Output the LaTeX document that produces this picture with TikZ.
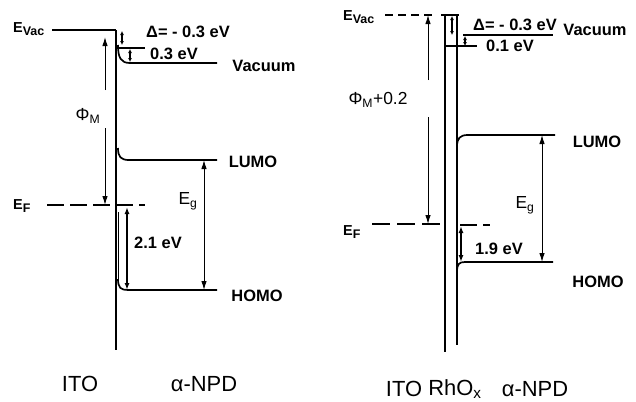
\documentclass[tikz,border=0pt]{standalone}
\usepackage{fontspec}
\setmainfont{Liberation Sans}
\usetikzlibrary{arrows.meta}
\newcommand{\esub}[2]{#1\raisebox{-3.5bp}{\fontsize{12.5}{14}\selectfont #2}}
\begin{document}
\begin{tikzpicture}[x=1bp,y=-1bp,
  barline/.style={line width=2.4bp},
  lvl/.style={line width=1.7bp},
  thinline/.style={line width=0.9bp},
  bigarr/.style={line width=1bp,-{Latex[length=9bp,width=5.5bp]}},
  dblarr/.style={line width=1bp,{Latex[length=9bp,width=5.5bp]}-{Latex[length=9bp,width=5.5bp]}},
  medarr/.style={line width=1.5bp,{Latex[length=7bp,width=5bp]}-{Latex[length=7bp,width=5bp]}},
  tinyarr/.style={line width=1.2bp,{Latex[length=4bp,width=4bp]}-{Latex[length=4bp,width=4bp]}},
  dashlvl/.style={line width=1.7bp,dash pattern=on 17bp off 6bp},
  lbl/.style={font=\fontsize{16.5}{18}\selectfont\bfseries, inner sep=0pt},
  elbl/.style={font=\fontsize{14.5}{16}\selectfont\bfseries, inner sep=0pt},
  txt/.style={font=\fontsize{17.5}{20}\selectfont, inner sep=0pt},
  bigtxt/.style={font=\fontsize{22}{26}\selectfont, inner sep=0pt},
]
\useasboundingbox (0,0) rectangle (636,401);
% ================= LEFT =================
\coordinate (LvacL) at (52,30);
\coordinate (LitoT) at (116,30);
\coordinate (LitoB) at (116,350);
\draw[lvl] (LvacL) -- (LitoT);
\draw[barline] (LitoT) -- (LitoB);
% vacuum level alpha-NPD
\coordinate (LvS) at (118,45);
\coordinate (LvE) at (217,63);
\draw[lvl] (LvS) .. controls (118,58) and (121,63) .. (130,63) -- (LvE);
% tick for 0.3 eV
\coordinate (LtA) at (117,48);
\coordinate (LtB) at (145,48);
\draw[lvl] (LtA) -- (LtB);
% Delta arrow
\coordinate (LdT) at (122,31);
\coordinate (LdB) at (122,45);
\draw[tinyarr] (LdT) -- (LdB);
% 0.3 eV arrow
\coordinate (L3T) at (130,49);
\coordinate (L3B) at (130,62);
\draw[tinyarr] (L3T) -- (L3B);
% LUMO
\coordinate (LlS) at (118,148);
\coordinate (LlE) at (217,160);
\draw[lvl] (LlS) .. controls (118,157) and (121,160) .. (129,160) -- (LlE);
% interface line and HOMO
\coordinate (LiT) at (118,212);
\coordinate (LiB) at (118,279);
\draw[thinline] (LiT) -- (LiB);
\coordinate (LhE) at (217,290);
\draw[lvl] (LiB) .. controls (118,288) and (121,290) .. (128,290) -- (LhE);
% E_F dashed
\coordinate (LfL) at (47,205);
\coordinate (LfR) at (145,205);
\draw[dashlvl] (LfL) -- (LfR);
% Phi_M arrow
\coordinate (LpT) at (105,37);
\coordinate (LpG1) at (105,90);
\coordinate (LpG2) at (105,128);
\coordinate (LpB) at (105,205);
\draw[bigarr] (LpG1) -- (LpT);
\draw[bigarr] (LpG2) -- (LpB);
% 2.1 eV arrow
\coordinate (L21T) at (127,207);
\coordinate (L21B) at (127,290);
\draw[medarr] (L21T) -- (L21B);
% E_g arrow
\coordinate (LgT) at (204,160);
\coordinate (LgB) at (204,290);
\draw[dblarr] (LgT) -- (LgB);
% labels
\node[elbl, anchor=west] (LEvac) at (13,29) {\esub{E}{Vac}};
\node[lbl] (LDelta) at (188,32) {Δ= - 0.3 eV};
\node[lbl] (L03) at (174,54) {0.3 eV};
\node[lbl] (LVac) at (264,66) {Vacuum};
\node[txt] (LPhi) at (88,116) {Φ\textsubscript{M}};
\node[lbl] (LLUMO) at (253,162) {LUMO};
\node[txt] (LEg) at (188,201) {E\textsubscript{g}};
\node[elbl, anchor=west] (LEF) at (13,206) {\esub{E}{F}};
\node[lbl] (L21) at (158,243) {2.1 eV};
\node[lbl] (LHOMO) at (257,296) {HOMO};
\node[bigtxt] (LITO) at (80,384) {ITO};
\node[bigtxt] (LNPD) at (204,384) {α-NPD};
% ================= RIGHT =================
\coordinate (RitoT) at (445,15);
\coordinate (RitoB) at (445,352);
\coordinate (RrhT) at (457,15);
\coordinate (RrhB) at (457,345);
\draw[barline] (RitoT) -- (RitoB);
\draw[barline] (RrhT) -- (RrhB);
\coordinate (RbarL) at (441,15);
\coordinate (RbarR) at (459,15);
\draw[lvl] (RbarL) -- (RbarR);
% E_vac dashed
\coordinate (RvL) at (385,15);
\coordinate (RvR) at (432,15);
\draw[lvl, dash pattern=on 8bp off 5bp] (RvL) -- (RvR);
% Phi_M + 0.2 arrow
\coordinate (RpT) at (428,15);
\coordinate (RpG1) at (428,80);
\coordinate (RpG2) at (428,117);
\coordinate (RpB) at (428,224);
\draw[bigarr] (RpG1) -- (RpT);
\draw[bigarr] (RpG2) -- (RpB);
% Delta arrow
\coordinate (RdT) at (452,16);
\coordinate (RdB) at (452,35);
\draw[tinyarr] (RdT) -- (RdB);
% vacuum alpha-NPD
\coordinate (RvacS) at (463,35);
\coordinate (RvacE) at (553,35);
\draw[lvl] (RvacS) -- (RvacE);
% tick
\coordinate (RtA) at (445,46);
\coordinate (RtB) at (477,46);
\draw[lvl] (RtA) -- (RtB);
% 0.1 eV arrow
\coordinate (R1T) at (465,36);
\coordinate (R1B) at (465,46);
\draw[tinyarr] (R1T) -- (R1B);
% LUMO
\coordinate (RlS) at (457,147);
\coordinate (RlE) at (555,135);
\draw[lvl] (RlS) .. controls (457,138) and (460,135) .. (468,135) -- (RlE);
% HOMO
\coordinate (RhS) at (457,272);
\coordinate (RhE) at (553,262);
\draw[lvl] (RhS) .. controls (457,264) and (459,262) .. (465,262) -- (RhE);
% E_F dashed
\coordinate (RfL) at (372,224);
\coordinate (RfR) at (440,224);
\draw[lvl, dash pattern=on 18bp off 7bp] (RfL) -- (RfR);
\coordinate (RfL2) at (460,225);
\coordinate (RfR2) at (490,225);
\draw[lvl, dash pattern=on 17bp off 6bp] (RfL2) -- (RfR2);
% 1.9 eV arrow
\coordinate (R19T) at (461,226);
\coordinate (R19B) at (461,262);
\draw[medarr] (R19T) -- (R19B);
% E_g arrow
\coordinate (RgT) at (542,135);
\coordinate (RgB) at (542,262);
\draw[dblarr] (RgT) -- (RgB);
% labels
\node[elbl, anchor=west] (REvac) at (343,17) {\esub{E}{Vac}};
\node[lbl] (RDelta) at (515,25) {Δ= - 0.3 eV};
\node[lbl] (RVac) at (595,30) {Vacuum};
\node[lbl] (R01) at (510,46) {0.1 eV};
\node[txt] (RPhi) at (378,100) {Φ\textsubscript{M}+0.2};
\node[lbl] (RLUMO) at (597,142) {LUMO};
\node[txt] (REg) at (525,205) {E\textsubscript{g}};
\node[elbl, anchor=west] (REF) at (343,232) {\esub{E}{F}};
\node[lbl] (R19) at (499,249) {1.9 eV};
\node[lbl] (RHOMO) at (598,282) {HOMO};
\node[bigtxt] (RITO) at (404,389) {ITO};
\node[bigtxt] (RRh) at (455,389) {RhO\textsubscript{x}};
\node[bigtxt] (RNPD) at (535,389) {α-NPD};
\end{tikzpicture}
\end{document}
